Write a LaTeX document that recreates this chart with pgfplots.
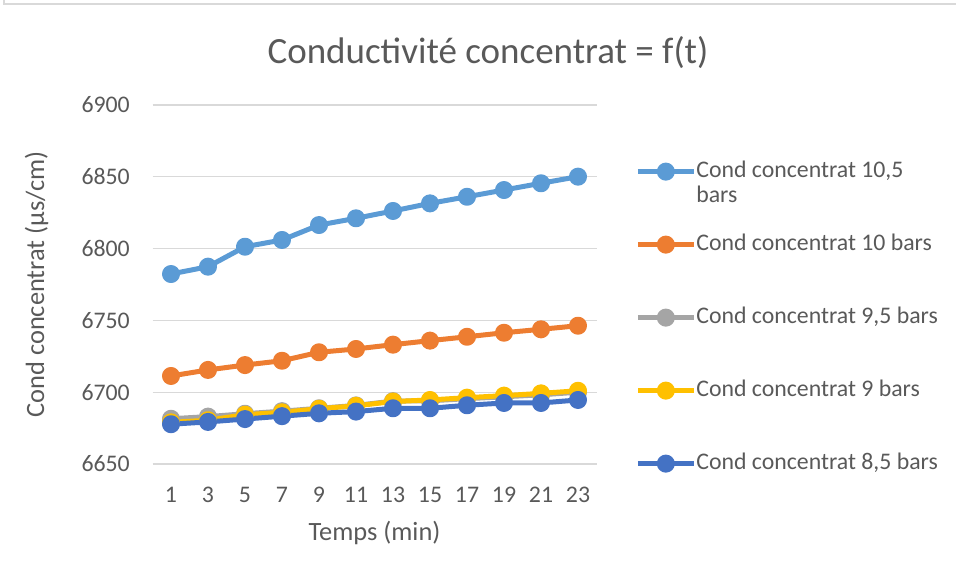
\documentclass[border=0pt]{standalone}
\usepackage{pgfplots}
\pgfplotsset{compat=1.18}
\usepackage{fontspec}
\setmainfont{Carlito}

\definecolor{txt}{HTML}{595959}
\definecolor{gridc}{HTML}{D9D9D9}
\definecolor{sA}{HTML}{5B9BD5}
\definecolor{sB}{HTML}{ED7D31}
\definecolor{sC}{HTML}{A5A5A5}
\definecolor{sD}{HTML}{FFC000}
\definecolor{sE}{HTML}{4472C4}

\begin{document}
\begin{tikzpicture}[x=1pt,y=1pt]
\path[use as bounding box] (0,0) rectangle (956,581);
\draw[gridc,line width=1.3pt] (4,581) -- (4,577) -- (956,577);

\node[anchor=base,text=txt,font=\fontsize{37}{44}\selectfont] at (488,517) {Conductivité concentrat = f(t)};

\begin{axis}[
  at={(152.5pt,117pt)}, anchor=south west,
  scale only axis, width=444pt, height=359pt,
  xmin=0, xmax=24, ymin=6650, ymax=6900,
  xtick={1,3,...,23}, ytick={6650,6700,...,6900},
  ymajorgrids, grid style={gridc,line width=1.3pt},
  axis line style={draw=none},
  major tick length=0pt,
  /pgf/number format/assume math mode=true,
  /pgf/number format/1000 sep={},
  tick label style={text=txt,font=\fontsize{23.8}{28}\selectfont},
  yticklabel style={inner sep=0pt,xshift=-22.5pt},
  xticklabel style={inner sep=0pt,yshift=-23pt},
  xlabel={Temps (min)},
  ylabel={Cond concentrat (µs/cm)},
  label style={text=txt,font=\fontsize{26.4}{30}\selectfont},
  xlabel style={at={(axis description cs:0.5,-0.212)},anchor=base},
  ylabel style={at={(axis description cs:-0.244,0.5)},anchor=base},
  every axis plot/.append style={line width=5pt,line join=round,mark=*,mark size=6.5pt},
  legend image code/.code={\draw[#1,mark repeat=2,mark phase=2] plot coordinates {(0pt,0pt) (28pt,0pt) (56pt,0pt)};},
  legend cell align=left,
  legend style={at={(axis description cs:1.087,0.847)}, anchor=north west,
    draw=none, fill=none, inner sep=0pt, row sep=50pt, column sep=0pt,
    text=txt, font=\fontsize{23.8}{25}\selectfont,
    nodes={inner sep=0pt,text height=17pt,text depth=6pt}},
]
\addplot[sA,mark options={fill=sA}] coordinates {
(1,6782.3) (3,6787.4) (5,6801.3) (7,6806.0) (9,6816.4) (11,6821.1)
(13,6826.2) (15,6831.5) (17,6836.1) (19,6840.8) (21,6845.5) (23,6850.1)};
\addlegendentry{{\begin{tabular}[t]{@{}l@{}}Cond concentrat 10,5\\bars\end{tabular}}}
\addplot[sB,mark options={fill=sB}] coordinates {
(1,6711.3) (3,6715.5) (5,6718.9) (7,6721.9) (9,6727.8) (11,6730.1)
(13,6733.1) (15,6735.9) (17,6738.6) (19,6741.4) (21,6743.8) (23,6746.3)};
\addlegendentry{Cond concentrat 10 bars}
\addplot[sC,mark options={fill=sC}] coordinates {
(1,6681.5) (3,6683.0) (5,6685.0) (7,6686.8) (9,6688.8) (11,6690.8)
(13,6693.8) (15,6694.0) (17,6695.5) (19,6696.8) (21,6698.2) (23,6700.0)};
\addlegendentry{Cond concentrat 9,5 bars}
\addplot[sD,mark options={fill=sD}] coordinates {
(1,6679.0) (3,6680.5) (5,6684.3) (7,6686.0) (9,6688.5) (11,6690.5)
(13,6693.5) (15,6694.6) (17,6696.2) (19,6697.6) (21,6699.2) (23,6701.0)};
\addlegendentry{Cond concentrat 9 bars}
\addplot[sE,mark options={fill=sE}] coordinates {
(1,6677.7) (3,6679.3) (5,6681.3) (7,6683.3) (9,6685.3) (11,6686.5)
(13,6688.8) (15,6688.8) (17,6690.9) (19,6692.5) (21,6692.5) (23,6694.6)};
\addlegendentry{Cond concentrat 8,5 bars}
\end{axis}
\end{tikzpicture}
\end{document}
